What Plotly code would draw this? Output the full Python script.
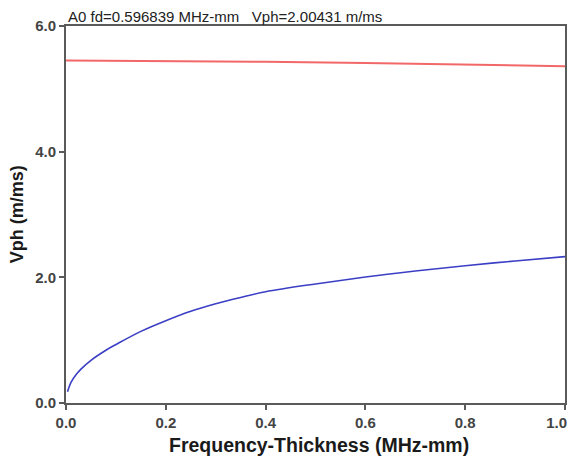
import plotly.graph_objects as go

# A0 mode (blue)
a0_fd = [0.003, 0.01, 0.02, 0.03, 0.05, 0.08, 0.10, 0.15, 0.20, 0.25, 0.30, 0.35,
         0.40, 0.50, 0.60, 0.70, 0.80, 0.90, 1.00]
a0_vph = [0.18, 0.33, 0.45, 0.54, 0.68, 0.84, 0.93, 1.14, 1.31, 1.46, 1.58, 1.68,
          1.77, 1.895, 2.005, 2.10, 2.185, 2.26, 2.33]

# S0 mode (red)
s0_fd = [0.0, 0.2, 0.4, 0.6, 0.8, 1.0]
s0_vph = [5.45, 5.445, 5.43, 5.41, 5.39, 5.36]

x_ticks = [0.0, 0.2, 0.4, 0.6, 0.8, 1.0]
# last label padded so it stays inside the visible page edge
x_tick_labels = ["0.0", "0.2", "0.4", "0.6", "0.8", "1.0\u00a0\u00a0\u00a0\u00a0"]
y_ticks = [0.0, 2.0, 4.0, 6.0]

title_text = "A0 fd=0.596839 MHz-mm\u00a0\u00a0\u00a0Vph=2.00431 m/ms"
x_title = "Frequency-Thickness (MHz-mm)"
y_title = "Vph (m/ms)"

FONT = "Liberation Sans, Arial, sans-serif"

fig = go.Figure()
fig.add_trace(go.Scatter(x=s0_fd, y=s0_vph, mode="lines",
                         line=dict(color="#f26868", width=2), showlegend=False))
fig.add_trace(go.Scatter(x=a0_fd, y=a0_vph, mode="lines",
                         line=dict(color="#3b3fc4", width=1.6, shape="spline"),
                         showlegend=False))

axis_common = dict(
    showgrid=False, zeroline=False, showline=True, linecolor="#5a5a5a",
    linewidth=2, mirror=True, ticks="outside", ticklen=5, tickwidth=1.5,
    tickcolor="#5a5a5a", automargin=False,
    ticklabeloverflow="allow",
    tickfont=dict(family=FONT, size=15, color="#444444", weight="bold"),
)

# page body has an 8px margin; the figure is offset so the plot area lands
# where the reference has it
fig.update_layout(
    width=567, height=453,
    margin=dict(l=58, r=10, t=18, b=58),
    paper_bgcolor="white", plot_bgcolor="white",
    xaxis=dict(range=[0, 1], tickvals=x_ticks, ticktext=x_tick_labels, **axis_common),
    yaxis=dict(range=[0, 6], tickvals=y_ticks, tickformat=".1f", **axis_common),
    annotations=[
        dict(text=title_text, xref="paper", yref="paper", x=0, y=1,
             xanchor="left", yanchor="bottom", yshift=-1, showarrow=False,
             font=dict(family=FONT, size=15, color="#222222")),
        dict(text=x_title, xref="paper", yref="paper", x=0.508, y=-0.112,
             xanchor="center", yanchor="middle", showarrow=False,
             font=dict(family=FONT, size=19.5, color="#1a1a1a", weight="bold")),
        dict(text=y_title, xref="paper", yref="paper", x=-0.098, y=0.501,
             xanchor="center", yanchor="middle", textangle=-90, showarrow=False,
             font=dict(family=FONT, size=18, color="#1a1a1a", weight="bold")),
    ],
)

fig.write_html("out.html")
